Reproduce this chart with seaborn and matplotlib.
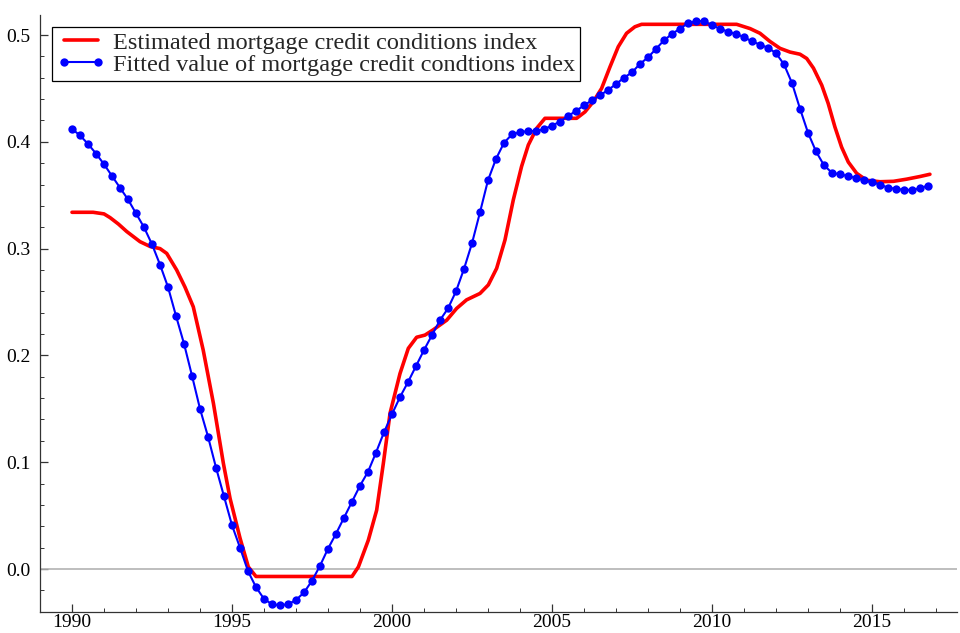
import numpy as np
import pandas as pd
import matplotlib
matplotlib.use("Agg")
import matplotlib.pyplot as plt
import seaborn as sns
from matplotlib.ticker import MultipleLocator, FormatStrFormatter

# ---------------- data ----------------
fitted_start = 1990.0
fitted_step = 0.25
fitted_values = [
    0.412, 0.406, 0.398, 0.389, 0.379, 0.368, 0.357, 0.346, 0.333, 0.320,
    0.304, 0.285, 0.264, 0.237, 0.211, 0.181, 0.150, 0.124, 0.095, 0.068,
    0.041, 0.020, -0.002, -0.017, -0.028, -0.033, -0.034, -0.033, -0.029, -0.022,
    -0.011, 0.003, 0.019, 0.033, 0.048, 0.063, 0.078, 0.091, 0.109, 0.128,
    0.145, 0.161, 0.175, 0.190, 0.205, 0.219, 0.233, 0.244, 0.260, 0.281,
    0.305, 0.334, 0.364, 0.384, 0.399, 0.407, 0.409, 0.410, 0.410, 0.412,
    0.415, 0.419, 0.424, 0.429, 0.434, 0.439, 0.4435, 0.4485, 0.454, 0.460,
    0.465, 0.473, 0.479, 0.487, 0.495, 0.501, 0.506, 0.511, 0.513, 0.513,
    0.509, 0.506, 0.503, 0.501, 0.498, 0.494, 0.491, 0.488, 0.483, 0.4725,
    0.455, 0.431, 0.4085, 0.391, 0.378, 0.371, 0.3695, 0.368, 0.366, 0.364,
    0.362, 0.360, 0.357, 0.356, 0.355, 0.355, 0.3565, 0.359,
]
fitted_years = [fitted_start + fitted_step * i for i in range(len(fitted_values))]

estimated_years = [
    1990.0, 1990.66, 1991.0, 1991.19, 1991.45, 1991.71, 1992.125, 1992.44, 1992.75, 1992.96, 1993.27, 1993.53,
    1993.79, 1994.10, 1994.42, 1994.73, 1994.94, 1995.25, 1995.51, 1995.75, 1998.75, 1998.95,
    1999.26, 1999.52, 1999.73, 1999.94, 2000.25, 2000.51, 2000.77, 2001.03, 2001.29, 2001.71,
    2002.02, 2002.33, 2002.75, 2003.01, 2003.27, 2003.53, 2003.79, 2004.05, 2004.26, 2004.52,
    2004.78, 2005.77, 2006.03, 2006.29, 2006.55, 2006.81, 2007.07, 2007.33, 2007.59, 2007.80,
    2010.77, 2011.19, 2011.50, 2011.81, 2012.125, 2012.44, 2012.75, 2012.96, 2013.17, 2013.43,
    2013.63, 2013.84, 2014.05, 2014.26, 2014.52, 2014.83, 2015.25, 2015.67, 2016.08, 2016.50,
    2016.81,
]
estimated_values = [
    0.334, 0.334, 0.3325, 0.329, 0.323, 0.316, 0.3065, 0.302, 0.300, 0.2955, 0.280, 0.264,
    0.2455, 0.205, 0.155, 0.099, 0.066, 0.029, 0.002, -0.007, -0.007, 0.002,
    0.027, 0.055, 0.099, 0.146, 0.183, 0.2066, 0.217, 0.219, 0.224, 0.233,
    0.244, 0.252, 0.258, 0.266, 0.2815, 0.308, 0.3455, 0.377, 0.397, 0.4126,
    0.422, 0.422, 0.428, 0.4375, 0.450, 0.470, 0.489, 0.5016, 0.5077, 0.510,
    0.510, 0.506, 0.5016, 0.494, 0.4875, 0.484, 0.482, 0.478, 0.469, 0.453,
    0.436, 0.414, 0.395, 0.381, 0.3705, 0.364, 0.3626, 0.363, 0.365, 0.3675,
    0.3696,
]

label_est = "Estimated mortgage credit conditions index"
label_fit = "Fitted value of mortgage credit condtions index"

x_ticks = [1990, 1995, 2000, 2005, 2010, 2015]
y_ticks = [0.0, 0.1, 0.2, 0.3, 0.4, 0.5]

# ---------------- style ----------------
sns.set_style("ticks")
plt.rcParams["font.family"] = ["Liberation Serif", "DejaVu Serif"]

W, H = 960, 633
fig = plt.figure(figsize=(W / 100, H / 100), dpi=100)
ax_left, ax_right, ax_top, ax_bottom = 40, 957, 15, 612
ax = fig.add_axes([ax_left / W, (H - ax_bottom) / H,
                   (ax_right - ax_left) / W, (ax_bottom - ax_top) / H])

df_est = pd.DataFrame({"year": estimated_years, "value": estimated_values})
df_fit = pd.DataFrame({"year": fitted_years, "value": fitted_values})

ax.axhline(0, color="#b3b3b3", lw=1.2, zorder=1)

sns.lineplot(data=df_est, x="year", y="value", ax=ax, color="#ff0000",
             linewidth=2.6, label=label_est, sort=False, zorder=3)
sns.lineplot(data=df_fit, x="year", y="value", ax=ax, color="#0000ff",
             linewidth=1.5, marker="o", markersize=6, markeredgewidth=0,
             label=label_fit, zorder=4)

x0 = 1990 + (ax_left - 72) / 32
x1 = 1990 + (ax_right - 72) / 32
y0 = (569 - ax_bottom) / 1068
y1 = (569 - ax_top) / 1068
ax.set_xlim(x0, x1)
ax.set_ylim(y0, y1)

ax.set_xticks(x_ticks)
ax.set_yticks(y_ticks)
ax.xaxis.set_minor_locator(MultipleLocator(1))
ax.yaxis.set_minor_locator(MultipleLocator(0.02))
ax.yaxis.set_major_formatter(FormatStrFormatter("%.1f"))

ax.tick_params(axis="both", which="major", direction="in", length=6, width=0.9,
               labelsize=14, color="#333333", labelcolor="black")
ax.tick_params(axis="both", which="minor", direction="in", length=3.2, width=0.7,
               color="#333333")
ax.tick_params(axis="y", which="major", pad=7)
ax.tick_params(axis="x", which="major", pad=1.5)

for s in ["top", "right"]:
    ax.spines[s].set_visible(False)
for s in ["left", "bottom"]:
    ax.spines[s].set_color("#333333")
    ax.spines[s].set_linewidth(0.9)

ax.set_xlabel("")
ax.set_ylabel("")

leg = ax.legend(loc="upper left",
                bbox_to_anchor=((52 - ax_left) / (ax_right - ax_left),
                                (ax_bottom - 27) / (ax_bottom - ax_top)),
                frameon=True, fancybox=False, framealpha=1, edgecolor="black",
                fontsize=17.5, handlelength=2.0, handletextpad=0.3,
                borderpad=0.2, labelspacing=0.0, borderaxespad=0,
                numpoints=2)
leg.get_frame().set_linewidth(0.9)

fig.savefig("out.png", dpi=100)
